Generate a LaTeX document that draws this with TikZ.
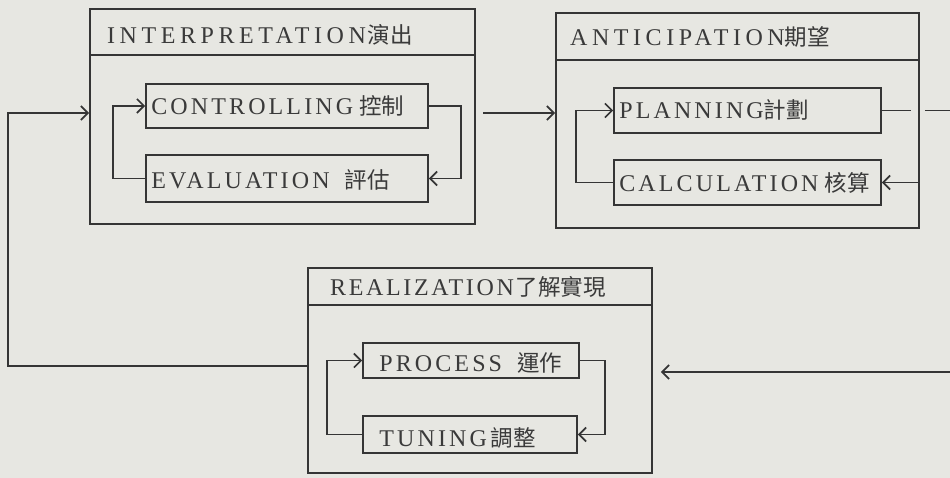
\documentclass[tikz,border=0pt]{standalone}
\usepackage{fontspec}
\setmainfont[LetterSpace=13]{Liberation Serif}
\newfontfamily\ttlfont[LetterSpace=19]{Liberation Serif}
\newfontfamily\ttlfontb[LetterSpace=11]{Liberation Serif}
\newfontfamily\cjk{Noto Sans CJK TC}
\usetikzlibrary{arrows.meta}
\definecolor{bg}{HTML}{E7E7E2}
\definecolor{ink}{HTML}{353535}
\definecolor{txt}{HTML}{3A3A3A}
\newcommand{\zh}[1]{{\cjk\fontsize{22.5}{26}\selectfont #1}}
\begin{document}
\begin{tikzpicture}[x=1pt,y=-1pt,color=ink,
  outer/.style={draw, rectangle, inner sep=0pt, line width=1.8pt},
  inbox/.style={draw, rectangle, inner sep=0pt, line width=1.7pt},
  ttl/.style={anchor=base west, inner sep=0pt, text=txt, font=\ttlfont\fontsize{24}{28}\selectfont},
  ttlb/.style={anchor=base west, inner sep=0pt, text=txt, font=\ttlfontb\fontsize{24}{28}\selectfont},
  lbl/.style={anchor=base west, inner sep=0pt, text=txt, font=\fontsize{24}{28}\selectfont},
  ln/.style={line width=1.7pt},
  arr/.style={ln, -{Straight Barb[length=7pt,width=14pt]}}]
\fill[bg] (0,0) rectangle (950,478);
\useasboundingbox (0,0) rectangle (950,478);

% outer boxes
\node[outer, minimum width=385pt, minimum height=215pt] (interp) at (282.5,116.5) {};
\node[outer, minimum width=363pt, minimum height=215pt] (antic) at (737.5,120.5) {};
\node[outer, minimum width=344pt, minimum height=205pt] (real) at (480,370.5) {};

% separators
\coordinate (sepI) at (0,55);
\coordinate (sepA) at (0,60);
\coordinate (sepR) at (0,305);
\draw[line width=1.8pt] (interp.west |- sepI) -- (interp.east |- sepI);
\draw[line width=1.8pt] (antic.west |- sepA) -- (antic.east |- sepA);
\draw[line width=1.8pt] (real.west |- sepR) -- (real.east |- sepR);

% titles
\node[ttl] (interpT) at (107,44) {INTERPRETATION\hspace{2pt}\zh{演出}};
\node[ttl] (anticT) at (570,46) {ANTICIPATION\zh{期望}};
\node[ttlb] (realT) at (330,295) {REALIZATION\hspace{2pt}\zh{了解實現}};

% inner boxes
\node[inbox, minimum width=282pt, minimum height=44pt] (ctrl) at (287,106) {};
\node[inbox, minimum width=282pt, minimum height=47pt] (eval) at (287,178.5) {};
\node[inbox, minimum width=267pt, minimum height=45pt] (plan) at (747.5,110.5) {};
\node[inbox, minimum width=267pt, minimum height=45pt] (calc) at (747.5,182.5) {};
\node[inbox, minimum width=216pt, minimum height=35pt] (proc) at (471,360.5) {};
\node[inbox, minimum width=214pt, minimum height=37pt] (tun) at (470,434.5) {};

% inner labels
\node[lbl] (ctrlT) at ([xshift=6pt,yshift=-9pt]ctrl.west) {CONTROLLING\hspace{6pt}\zh{控制}};
\node[lbl] (evalT) at ([xshift=6pt,yshift=-10pt]eval.west) {EVALUATION \hspace{6pt}\zh{評估}};
\node[lbl] (planT) at ([xshift=6pt,yshift=-8pt]plan.west) {PLANNING\zh{計劃}};
\node[lbl] (calcT) at ([xshift=6pt,yshift=-9pt]calc.west) {CALCULATION\hspace{6pt}\zh{核算}};
\node[lbl] (procT) at ([xshift=17pt,yshift=-11pt]proc.west) {PROCESS \hspace{6pt}\zh{運作}};
\node[lbl] (tunT) at ([xshift=17pt,yshift=-12pt]tun.west) {TUNING\hspace{4pt}\zh{調整}};

% inner loops
\draw[arr] (eval.west) -- ++(-32,0) |- (ctrl.west);
\draw[arr] (ctrl.east) -- ++(32,0) |- (eval.east);
\draw[arr] (calc.west) -- ++(-37,0) |- (plan.west);
\draw[arr] (tun.west) -- ++(-35,0) |- (proc.west);
\draw[arr] (proc.east) -- ++(25,0) |- (tun.east);

% connectors between boxes
\coordinate (fbTop) at (8,113);
\coordinate (fbBot) at (8,366);
\draw[arr] (real.west |- fbBot) -- (fbBot) -- (fbTop) -- (interp.west |- fbTop);
\coordinate (midA) at (483,113);
\draw[arr] (midA) -- (antic.west |- midA);
\coordinate (edgeP) at (950,113);
\coordinate (edgeR) at (950,372);
\draw[ln] (plan.east) -- ++(29,0);
\draw[ln] ([xshift=5pt]antic.east |- plan.east) -- (edgeP |- plan.east);
\draw[arr] (antic.east |- calc.east) -- (calc.east);
\draw[arr] (edgeR) -- ([xshift=8pt]real.east |- edgeR);
\end{tikzpicture}
\end{document}
